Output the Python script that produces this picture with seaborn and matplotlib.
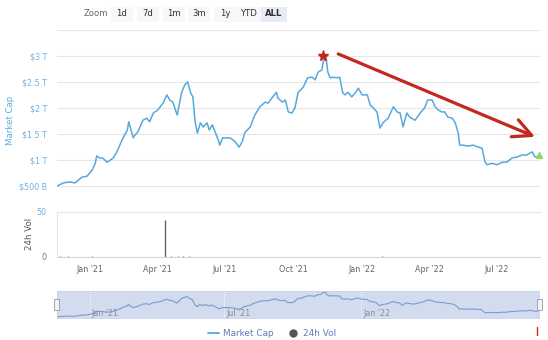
import pandas as pd
import matplotlib
matplotlib.use("Agg")
import matplotlib.pyplot as plt
import matplotlib.dates as mdates
import matplotlib.transforms as mtransforms
from matplotlib.lines import Line2D
from matplotlib.patches import Rectangle
import seaborn as sns

# ---- data -------------------------------------------------------------
# total crypto market capitalisation (trillion USD), days counted from 1 Jan 2021
cap_days = [-44, -36, -27, -20, -11, -4, 3, 7, 9, 13, 17, 23, 27, 31, 36, 43, 50, 52, 58, 60,
            64, 71, 76, 80, 85, 91, 98, 103, 107, 111, 117, 121,
            123, 127, 131, 135, 138, 141, 144, 148, 152, 157, 160, 164, 168, 172, 174, 178, 184,
            188, 195, 200, 204, 208, 215, 221, 228, 235, 239, 244, 250, 252, 258, 262, 266, 271, 275,
            279, 286, 292, 298, 302, 306, 311, 313, 317, 319, 322, 326, 331, 335, 339, 342, 346,
            351, 356, 360, 365, 372, 376, 380, 385, 389, 393, 400, 407, 412, 416, 420, 425,
            429, 436, 443, 449, 453, 459, 463, 467, 472, 476, 480, 486, 490, 494, 496, 500, 507,
            514, 521, 526, 530, 533, 539, 546, 553, 559, 566, 573, 580, 586, 593, 597, 600, 603]
cap_values = [0.49, 0.55, 0.57, 0.55, 0.66, 0.68, 0.80, 0.93, 1.07, 1.03, 1.03, 0.95, 0.99, 1.03,
              1.15, 1.38, 1.57, 1.73, 1.42, 1.47, 1.53, 1.76, 1.80, 1.73, 1.90, 1.96, 2.09, 2.25,
              2.15, 2.11, 1.86, 2.15,
              2.30, 2.44, 2.50, 2.29, 2.21, 1.73, 1.51, 1.71, 1.63, 1.71, 1.57, 1.67, 1.53, 1.38,
              1.28, 1.42, 1.42, 1.42, 1.34, 1.24, 1.34, 1.53, 1.63, 1.86, 2.02, 2.11, 2.09, 2.19,
              2.30, 2.19, 2.11, 2.15, 1.92, 1.90, 2.00,
              2.29, 2.40, 2.58, 2.59, 2.54, 2.69, 2.73, 2.90, 2.93, 2.69, 2.58, 2.59, 2.58, 2.59,
              2.29, 2.25, 2.30, 2.21, 2.29, 2.38, 2.25, 2.25, 2.05, 2.00, 1.92, 1.61, 1.71, 1.80,
              2.02, 1.92, 1.90, 1.63, 1.90,
              1.82, 1.76, 1.90, 2.00, 2.15, 2.15, 2.02, 1.96, 1.92, 1.92, 1.82, 1.80, 1.71, 1.51,
              1.28, 1.28, 1.26, 1.28, 1.24, 1.22, 0.95, 0.90, 0.93, 0.90, 0.95, 0.95, 1.03, 1.05,
              1.09, 1.09, 1.15, 1.05, 1.05, 1.09]

# 24h volume
vol_days = [-40, -30, 3, 100, 108, 118, 125, 133, 392]
vol_values = [0.4, 0.3, 0.5, 41, 0.8, 0.6, 0.5, 0.4, 1.2]

cap_ticks = [0.5, 1, 1.5, 2, 2.5, 3, 3.5]
cap_tick_labels = ["$500 B", "$1 T", "$1.5 T", "$2 T", "$2.5 T", "$3 T", ""]
date_ticks = ["2021-01-01", "2021-04-01", "2021-07-01", "2021-10-01",
              "2022-01-01", "2022-04-01", "2022-07-01"]
date_tick_labels = ["Jan '21", "Apr '21", "Jul '21", "Oct '21", "Jan '22", "Apr '22", "Jul '22"]
nav_ticks = ["2021-01-01", "2021-07-01", "2022-01-01"]
nav_tick_labels = ["Jan '21", "Jul '21", "Jan '22"]
zoom_buttons = ["1d", "7d", "1m", "3m", "1y", "YTD", "ALL"]

# ---- frames -----------------------------------------------------------
base = pd.Timestamp("2021-01-01")
cap = pd.DataFrame({"date": base + pd.to_timedelta(cap_days, unit="D"), "cap": cap_values})
vol = pd.DataFrame({"date": base + pd.to_timedelta(vol_days, unit="D"), "vol": vol_values})
x_lo = base + pd.Timedelta(days=-44.3)
x_hi = base + pd.Timedelta(days=603.7)

sns.set_theme(style="white")
plt.rcParams["font.family"] = ["DejaVu Sans"]

W, H = 548, 340
fig = plt.figure(figsize=(W / 100, H / 100), dpi=100)


def box(l, t, r, b):
    """pixel box (left, top, right, bottom) -> figure fraction rect"""
    return [l / W, 1 - b / H, (r - l) / W, (b - t) / H]


LINE = "#55a9dd"
RED = "#c3281f"
FS = 5.8

# ---- market cap panel ---------------------------------------------------
ax = fig.add_axes(box(57, 30.1, 540, 190.7))
sns.lineplot(data=cap, x="date", y="cap", ax=ax, color=LINE, lw=1.1)
ax.set_xlim(x_lo, x_hi)
ax.set_ylim(0.4, 3.5)
ax.set_yticks(cap_ticks)
ax.set_yticklabels(cap_tick_labels)
ax.set_xticks([])
ax.yaxis.grid(True, color="#e6e6e6", lw=0.8)
ax.tick_params(axis="y", length=0, pad=7.2, labelsize=FS, labelcolor="#6fb1e3")
ax.set_xlabel("")
ax.set_ylabel("")
for s in ax.spines.values():
    s.set_visible(False)

# peak marker and trend arrow
peak = cap.loc[cap["cap"].idxmax()]
star_tr = mtransforms.offset_copy(ax.transData, fig=fig, x=-3, y=4, units="dots")
ax.plot([peak["date"]], [peak["cap"]], marker="*", ms=8, color=RED, transform=star_tr,
        clip_on=False, zorder=5)
a_start = (mdates.date2num(base + pd.Timedelta(days=333)), 3.04)
a_end = (mdates.date2num(base + pd.Timedelta(days=597)), 1.44)
ax.annotate("", xy=a_end, xytext=a_start,
            arrowprops=dict(arrowstyle="->,head_length=1.1,head_width=0.55",
                            color=RED, lw=2.3, shrinkA=0, shrinkB=0),
            annotation_clip=False, zorder=6)
last = cap.iloc[-1]
ax.plot([last["date"]], [last["cap"]], marker="^", ms=5, color="#8ed76b",
        clip_on=False, zorder=5)

# ---- volume panel -------------------------------------------------------
axv = fig.add_axes(box(57, 211.7, 540, 256.7))
axv.vlines(vol["date"], 0, vol["vol"], color="#5a5a5a", lw=0.9)
axv.set_xlim(x_lo, x_hi)
axv.set_ylim(0, 50)
axv.set_yticks([0, 50])
axv.set_yticklabels(["0", "50"])
axv.get_yticklabels()[0].set_color("#777777")
axv.get_yticklabels()[1].set_color("#6fb1e3")
axv.tick_params(axis="y", length=0, pad=7.5, labelsize=FS)
axv.set_xticks(pd.to_datetime(date_ticks))
axv.set_xticklabels(date_tick_labels)
axv.tick_params(axis="x", length=3, width=0.6, color="#ccd6eb", pad=3,
                labelsize=FS, labelcolor="#666666")
axv.spines["right"].set_visible(False)
axv.spines["top"].set_color("#e6e6e6")
axv.spines["left"].set_color("#e6e6e6")
axv.spines["bottom"].set_color("#ccd6eb")
for s in axv.spines.values():
    s.set_linewidth(0.8)

# ---- navigator ----------------------------------------------------------
axn = fig.add_axes(box(56.7, 290.7, 539, 318.3))
axn.set_facecolor("#d3dbef")
for d in pd.to_datetime(nav_ticks):
    axn.axvline(d, color="#e3e8f4", lw=0.7, zorder=0)
sns.lineplot(data=cap, x="date", y="cap", ax=axn, color="#7f99cf", lw=0.8)
axn.set_xlim(x_lo, x_hi)
axn.set_ylim(0.35, 3.1)
axn.set_xticks([])
axn.set_yticks([])
axn.set_xlabel("")
axn.set_ylabel("")
for s in axn.spines.values():
    s.set_color("#c9d1e6")
    s.set_linewidth(0.6)
lab_tr = mtransforms.blended_transform_factory(axn.transData, axn.transAxes)
lab_tr = mtransforms.offset_copy(lab_tr, fig=fig, x=2, y=0, units="dots")
for d, t in zip(pd.to_datetime(nav_ticks), nav_tick_labels):
    axn.text(d, 0.19, t, transform=lab_tr, ha="left", va="center",
             fontsize=FS, color="#868da3")
for hx in (56.3, 539.5):
    fig.add_artist(Rectangle(((hx - 2.5) / W, 1 - 310 / H), 5 / W, 11 / H,
                             transform=fig.transFigure, facecolor="#f2f2f2",
                             edgecolor="#9a9a9a", lw=0.6, zorder=10))

# ---- range selector -----------------------------------------------------
fig.text(96 / W, 1 - 14 / H, "Zoom", ha="center", va="center", fontsize=FS + 0.3, color="#666666")
btn_x = [122, 148, 174, 199, 225, 249, 274]
for lab, cx in zip(zoom_buttons, btn_x):
    active = lab == "ALL"
    bw = 26 if len(lab) == 3 else 22
    fig.add_artist(Rectangle(((cx - bw / 2) / W, 1 - 21.5 / H), bw / W, 15 / H,
                             transform=fig.transFigure,
                             facecolor="#e6ebf5" if active else "#f7f7f7",
                             edgecolor="none", zorder=1))
    fig.text(cx / W, 1 - 14 / H, lab, ha="center", va="center", fontsize=FS + 0.3,
             color="#333333", fontweight="bold" if active else "normal", zorder=2)

# ---- axis titles ----------------------------------------------------------
fig.text(11 / W, 1 - 120 / H, "Market Cap", rotation=90, ha="center", va="center",
         fontsize=FS + 0.4, color="#5aaee0")
fig.text(30 / W, 1 - 234 / H, "24h Vol", rotation=90, ha="center", va="center",
         fontsize=FS + 0.4, color="#555555")

# ---- legend -------------------------------------------------------------
handles = [Line2D([], [], color=LINE, lw=1.3),
           Line2D([], [], color="#555555", lw=0, marker="o", ms=5)]
fig.legend(handles, ["Market Cap", "24h Vol"], loc="center",
           bbox_to_anchor=(272 / W, 1 - 334 / H), ncol=2, frameon=False,
           fontsize=FS + 0.6, labelcolor="#5c7cbd", handlelength=1.2,
           handletextpad=0.5, columnspacing=1.6)
fig.add_artist(Line2D([537 / W] * 2, [1 - 327 / H, 1 - 335 / H],
                      transform=fig.transFigure, color="#d62020", lw=1))

fig.savefig("out.png", dpi=100)
